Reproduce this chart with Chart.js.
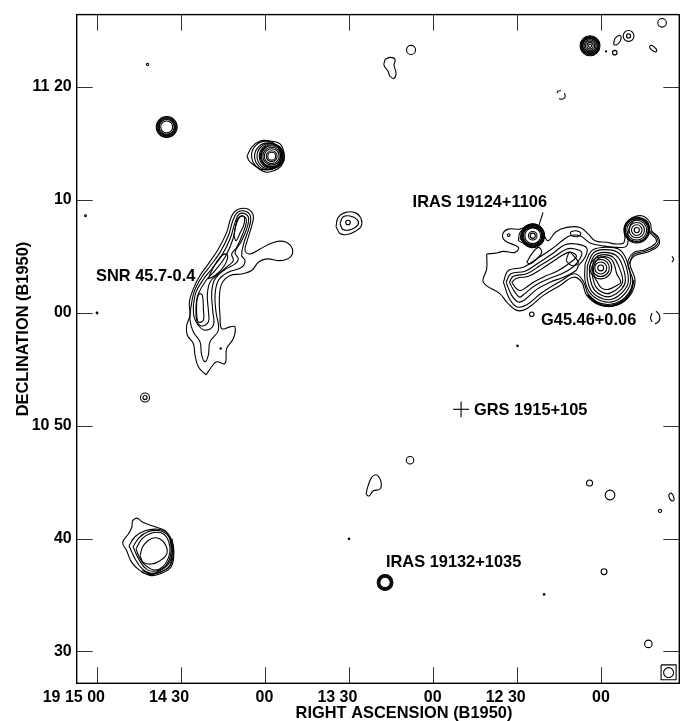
<!DOCTYPE html>
<html>
<head>
<meta charset="utf-8">
<title>SNR 45.7-0.4 field</title>
<script src="https://cdn.jsdelivr.net/npm/chart.js@4/dist/chart.umd.min.js"></script>
<style>
body { margin: 0; background: #fff; }
canvas { display: block; }
</style>
</head>
<body>
<canvas id="myChart" width="680" height="721"></canvas>
<script>
// x = seconds of RA west of 19 15 00, y = arcmin of Dec above 10 00
var raTicks = [0, 30, 60, 90, 120, 150, 180];
var raLabels = ["19 15 00", "14 30", "00", "13 30", "00", "12 30", "00"];
var decTicks = [30, 40, 50, 60, 70, 80];
var decLabels = ["30", "40", "10 50", "00", "10", "11 20"];

// round contours: [ra, dec, radius in arcmin]
var rings = [
    [25.03,76.46,.925],[25.03,76.46,.863],[25.03,76.46,.793],[25.03,76.46,.722],[25.03,76.46,.66],[25.03,76.46,.53],
    [62.48,73.87,1.1],[62.48,73.87,1.01],[62.48,73.87,.93],[62.48,73.87,.79],[62.48,73.87,.66],[62.48,73.87,.48],[62.48,73.87,.35],
    [60.43,73.92,1.28],[61.15,73.86,1.19],[61.87,73.87,1.15],
    [175.98,83.65,.88],[175.98,83.65,.82],[175.98,83.65,.76],[175.98,83.65,.7],[175.98,83.65,.63],[175.98,83.65,.53],[175.98,83.65,.41],[175.98,83.65,.28],[175.98,83.65,.14],
    [189.71,84.52,.48],[189.71,84.52,.18],[201.66,85.68,.38],[184.79,83.04,.2],[181.7,83.15,.05],
    [112.15,83.28,.4],[18.19,82,.1],[-3.92,68.6,.08],[.18,59.98,.08],
    [17.3,52.49,.4],[17.3,52.49,.18],[89.68,68,.2],
    [111.8,46.94,.33],[175.8,44.92,.27],[183.1,43.86,.43],[200.94,42.45,.14],[180.97,37.07,.26],
    [90.04,39.98,.07],[150.1,57.07,.07],[159.6,35.05,.07],[196.77,30.67,.33],
    [102.88,36.11,.7],[102.88,36.11,.64],[102.88,36.11,.58],[102.88,36.11,.53],[102.88,36.11,.46],
    [155.2,59.87,.2],[146.98,66.88,.12],[44.28,56.84,.06],
    [179.79,63.97,.26],[179.79,63.97,.53],[179.79,63.97,.76],[179.79,63.97,.97],
    [192.63,67.32,.23],[192.63,67.32,.47],[192.63,67.32,.68],[192.63,67.32,.88],[192.63,67.32,1],[192.63,67.32,1.07],[192.63,67.32,1.14],
    [155.54,66.82,.23],[155.54,66.82,.38],[155.54,66.82,.7],[155.54,66.82,.82],[155.54,66.82,.9],[155.54,66.82,.97],[155.54,66.82,1.05],
    [203.98,28.13,.44]
];

// SNR 45.7-0.4
var snrOuter = [[39.05,54.49],[36.31,55.22],[35.13,56.25],[34.53,57.28],[32.39,58.01],[32.15,58.89],[33.34,59.77],[33.1,60.95],[34.53,62.12],[36.91,63.3],[39.88,64.33],[43.45,65.65],[46.42,67.12],[48.2,68.58],[50.58,69.17],[54.14,69.17],[55.93,68.58],[55.33,67.7],[53.55,66.23],[52.96,65.5],[54.74,65.21],[58.3,65.65],[63.06,66.23],[67.22,66.29],[69.84,65.65],[69,64.91],[65.44,64.62],[60.68,64.77],[57.71,64.47],[55.33,63.74],[51.77,63.44],[47.61,63.3],[44.64,62.56],[43.8,61.24],[44.04,59.77],[44.64,58.6],[47.61,58.75],[49.39,58.75],[48.8,57.72],[46.42,56.84],[45.82,55.51],[42.85,55.66],[41.07,55.22]];
var snrSecond = [[33.58,60.36],[34.77,61.83],[37.5,63.15],[40.47,64.12],[44.04,65.35],[47.01,66.82],[48.8,68.29],[50.58,68.94],[53.55,68.94],[54.98,68.44],[54.26,67.41],[52.6,66.23],[51.77,65.06],[52.96,64.62],[51.77,64.03],[47.01,63.59],[43.45,62.86],[42.26,61.54],[42.61,60.07],[43.45,58.45],[40.47,57.42],[39.88,56.25],[38.69,55.66],[37.5,56.25],[36.91,57.42],[34.53,58.3],[33.34,59.33]];
var snrThird = [[34.53,60.65],[35.48,61.83],[38.1,62.95],[41.07,63.88],[44.64,65.06],[47.61,66.53],[49.39,67.98],[50.82,68.73],[53.31,68.73],[54.26,68.29],[53.31,67.26],[51.41,66.23],[49.39,65.35],[50.58,64.77],[49.39,64.33],[45.82,63.83],[42.26,63],[41.07,61.83],[41.43,60.21],[41.66,58.89],[38.69,58.45],[36.31,58.89],[34.77,59.63]];
var snrFourth = [[35.48,60.65],[36.31,61.68],[39.05,62.86],[42.26,63.74],[45.82,64.91],[48.44,66.38],[49.98,67.94],[51.29,68.53],[53.08,68.44],[53.43,68],[52.12,66.97],[49.98,65.79],[48.2,65.21],[48.8,64.62],[47.01,64.18],[43.45,63.44],[40.47,62.71],[39.52,61.54],[39.88,60.21],[39.88,59.19],[37.5,58.83],[35.72,59.33]];
var snrMidLoop = [[39.88,63],[41.07,63.74],[44.04,64.91],[46.42,65.21],[46.66,64.77],[45.23,64.03],[42.26,63.3]];
var snrTopLoop = [[49.03,66.82],[49.98,68.14],[51.17,68.53],[52.6,68.53],[52.6,67.85],[51.17,67.06],[49.75,66.38]];
var snrLowLoop = [[35.72,61.09],[36.67,61.68],[37.74,61.54],[38.1,60.36],[38.1,59.33],[36.31,59.19],[35.72,59.92]];

// G45.46+0.06 complex
var gOuter = [[139.13,65.21],[142.7,65.3],[145.08,65.44],[149.24,65.35],[150.43,65.79],[145.67,66.38],[144.84,66.97],[146.86,67.41],[151.02,67.41],[155.18,67.85],[158.75,67.47],[159.94,66.68],[161.12,66.38],[163.86,67.18],[167.66,67.56],[172.42,67.56],[175.39,66.97],[177.77,66.38],[181.93,66.24],[185.49,66.09],[188.11,66.24],[188.47,67.56],[190.25,68.29],[194.41,68.59],[197.38,68],[197.97,67.26],[200.35,66.68],[200.35,65.94],[196.19,65.35],[192.03,65.06],[190.25,64.33],[192.03,62.86],[190.25,61.54],[185.49,60.66],[179.55,60.66],[174.8,61.54],[173.01,62.71],[170.04,63.15],[165.28,62.42],[159.34,61.54],[153.4,60.36],[149.83,60.21],[146.27,60.95],[143.89,61.68],[137.94,62.71],[139.13,63.89]];
var gSecond = [[145.08,62.71],[146.86,63.74],[152.21,64.03],[156.96,64.77],[162.31,65.65],[166.47,66.47],[168.85,66.82],[172.42,66.82],[175.98,66.18],[180.14,65.94],[185.49,65.79],[189.06,65.94],[189.66,67.26],[191.44,68.14],[194.41,68.35],[196.79,67.94],[197.14,67.18],[199.52,66.53],[199.16,66.09],[195.6,65.59],[191.44,65.3],[189.42,64.33],[191.2,62.86],[189.53,61.68],[185.25,60.86],[179.79,60.83],[175.39,61.65],[173.6,62.77],[170.63,63.45],[165.28,62.77],[158.75,61.77],[153.4,60.71],[150.07,60.51],[147.22,61.24]];
var gMain1 = [[174.2,64.33],[176.58,65.5],[180.74,65.79],[186.09,65.65],[188.82,64.77],[190.49,62.86],[188.82,61.83],[184.9,61.04],[180.14,61.04],[175.98,61.77],[174.2,62.86]];
var gMain2 = [[175.03,64.18],[177.17,65.3],[180.74,65.59],[185.49,65.41],[188.11,64.62],[189.65,62.86],[188.11,61.98],[184.3,61.24],[180.5,61.24],[176.58,61.89],[175.03,62.95]];
var gMain3 = [[175.75,64.03],[177.53,65.06],[180.98,65.35],[185.02,65.12],[187.28,64.33],[188.58,62.86],[187.28,62.12],[183.71,61.48],[180.74,61.48],[177.41,62.07],[175.98,63.06]];
var gMain4 = [[176.58,64.03],[178.12,64.91],[181.09,65.15],[184.3,64.91],[186.09,64.18],[187.63,62.86],[186.44,62.27],[183.12,61.74],[180.74,61.77],[178.12,62.27],[176.93,63.15]];
var gMain5 = [[177.17,64.03],[178.72,64.77],[181.33,64.97],[183.71,64.71],[184.9,64.03],[185.49,63.45],[186.92,62.71],[185.49,62.42],[182.52,62.07],[180.14,62.18],[178.6,62.71],[177.41,63.3]];
var gFilA = [[146.03,62.71],[147.69,63.45],[152.8,63.68],[157.56,64.41],[162.91,65.3],[167.07,66.03],[171.23,66.09],[174.8,65.74],[174.2,64.91],[171.82,64.18],[170.99,63.74],[166.47,63.15],[161.72,62.71],[156.96,62.07],[152.8,61.18],[150.43,60.95],[148.05,61.54]];
var gFilB = [[147.22,62.71],[148.64,63.24],[153.4,63.45],[158.15,64.18],[163.5,65],[167.66,65.65],[170.63,65.65],[173.01,65.35],[172.18,64.71],[169.8,64.03],[165.88,63.45],[161.12,63],[156.37,62.42],[152.21,61.6],[150.78,61.39],[149,61.89]];
var gFilC = [[148.05,62.71],[149.83,63.06],[153.99,63.24],[158.75,63.89],[164.1,64.77],[168.26,65.35],[170.63,65.21],[170.99,64.91],[168.26,64.33],[164.69,63.74],[160.53,63.3],[155.78,62.71],[152.21,62.07],[150.78,61.98],[149.24,62.27]];
var gLoop1 = [[153.4,64.47],[155.18,65.21],[157.56,65.79],[158.75,65.35],[156.96,64.77],[154.59,64.33]];
var gLoop2 = [[168.85,67.12],[170.63,67.26],[172.66,67.06],[171.82,66.76],[169.45,66.82]];
var gLoop3 = [[167.43,64.62],[168.61,65.35],[170.04,65.06],[171.82,64.41],[169.45,64.18]];
var irasOuter1 = [[150.43,66.38],[151.02,67.12],[154.59,67.7],[158.15,67.56],[159.58,66.82],[158.15,66.09],[154.59,65.94]];
var irasOuter2 = [[151.02,66.53],[151.85,67.12],[154.82,67.56],[157.56,67.41],[158.87,66.82],[157.56,66.24],[154.35,66.09]];

// lower left source
var swOuter = [[12.77,41.57],[14.34,41.81],[16.69,41.42],[20.86,41.04],[24.43,40.69],[26.82,39.81],[27.39,38.77],[26.21,37.6],[22.64,37.01],[19.08,36.81],[15.51,37.16],[12.55,37.89],[10.77,38.92],[9.34,39.66],[11.34,40.4],[12.55,40.98]];
var swSecond = [[11.59,39.37],[13.73,40.16],[17.29,40.69],[21.93,40.82],[25.14,40.51],[26.92,39.63],[27.1,38.75],[25.5,37.69],[21.93,37.07],[19.08,36.94],[16.22,37.34],[13.73,38.22]];
var swThird = [[13.02,39.28],[15.16,40.07],[18.36,40.6],[22.64,40.69],[25.5,40.25],[26.57,39.37],[26.39,38.48],[24.43,37.51],[21.22,37.12],[18.01,37.25],[15.16,38.13]];
var swFourth = [[14.09,39.1],[16.22,39.98],[19.43,40.47],[23,40.51],[25.14,40.07],[26.21,39.19],[25.67,38.31],[23.71,37.51],[20.86,37.21],[18.01,37.51],[15.51,38.22]];
var swInner = [[15.51,38.48],[16.69,39.37],[19.68,40.01],[22.64,39.96],[24.78,39.37],[25.03,38.63],[22.64,38.04],[19.68,37.75],[16.69,37.89]];

// other blobs
var tophat = [[53.67,73.9],[55.45,74.69],[58.3,75.22],[61.87,75.22],[65.44,74.96],[66.86,74.16],[66.86,73.46],[64.72,72.75],[61.15,72.45],[59,72.58],[56.5,73.02],[54.4,73.46]];
var midOuter = [[85.4,67.64],[86.12,68.43],[88.62,68.87],[92.18,68.87],[94.32,68.34],[94.32,67.64],[92.18,67.2],[89.33,66.93],[86.83,67.02]];
var midInner = [[86.83,67.91],[87.9,68.48],[90.4,68.57],[92.9,68.26],[93.26,67.82],[90.76,67.38],[87.9,67.38]];
var blobTop = [[102.88,82.45],[104.66,82.62],[106.44,82.45],[106.09,81.92],[106.8,81.21],[106.09,80.77],[104.66,80.95],[103.95,81.39],[102.52,81.92]];
var blobLow = [[96.1,43.95],[96.8,44.65],[98.2,45.45],[100,45.62],[101.45,45],[101.1,44.39],[98.6,44.21],[97.16,43.77]];
var elongA = [[184.36,83.77],[184.9,84.3],[186.32,84.56],[187.03,84.47],[186.68,84.03],[185.25,83.72]];
var elongB = [[197.2,83.64],[198.09,83.68],[199.52,83.37],[199.7,83.15],[198.8,83.15],[197.38,83.42]];
var elongC = [[203.97,43.86],[204.9,44.03],[205.94,43.59],[205.58,43.33],[204.5,43.5]];

var closedContours = [
    snrOuter, snrSecond, snrThird, snrFourth, snrMidLoop, snrTopLoop, snrLowLoop,
    gOuter, gSecond, gMain1, gMain2, gMain3, gMain4, gMain5, gFilA, gFilB, gFilC, gLoop1, gLoop2, gLoop3,
    irasOuter1, irasOuter2, swOuter, swSecond, swThird, swFourth, swInner,
    tophat, midOuter, midInner, blobTop, blobLow, elongA, elongB, elongC
];

// broken contours, left open
var openContours = [
    [[164.2,79.45],[164.5,79.63],[165.6,79.67]],
    [[166.9,79.45],[167.07,79.1],[166,78.92],[164.93,78.97]],
    [[198.1,59.98],[197.56,59.54],[198.1,59.19]],
    [[199.5,60.16],[200.77,59.72],[200.6,59.28],[199.16,59.01]],
    [[205.2,65],[205.75,64.74],[205.2,64.47]],
    [[189.89,64.33],[191.67,65.18],[195.83,65.47],[199.76,66],[200,66.59],[197.5,67.23]],
    [[191.44,62.86],[189.89,61.63],[185.25,60.77],[179.79,60.74],[175.03,61.6]],
    [[191.7,62.9],[190.1,61.58],[185.4,60.7],[179.7,60.69],[174.9,61.56]],
    [[26.9,40],[27.6,38.8],[26.6,37.5],[23,36.9],[19.5,36.72],[16,37.05]],
    [[26.4,39.9],[26.95,38.8],[26,37.55],[22.8,37.05],[19.3,36.87],[16.4,37.2]]
];

// straight marks: GRS cross, IRAS pointer, beam box
var straightLines = [
    [[127.15,51.45],[132.85,51.45]],
    [[130,50.75],[130,52.15]],
    [[157.43,67.48],[159.21,68.89]],
    [[201.3,28.81],[206.66,28.81],[206.66,27.49],[201.3,27.49],[201.3,28.81]]
];

var noteTexts = ["IRAS 19124+1106", "SNR 45.7-0.4", "G45.46+0.06", "GRS 1915+105", "IRAS 19132+1035"];
var noteRa = [112.7, -0.18, 158.5, 134.6, 103.2];
var noteDec = [69.76, 63.18, 59.36, 51.36, 37.87];

var xTitle = "RIGHT ASCENSION (B1950)";
var yTitle = "DECLINATION (B1950)";

function lineSet(pts, tension) {
    return {
        data: pts,
        showLine: true,
        borderColor: "#000",
        borderWidth: 1.1,
        pointRadius: 0,
        tension: tension,
        clip: false
    };
}

var sets = [];
for (i = 0; i < closedContours.length; i++) {
    sets.push(lineSet(closedContours[i].concat([closedContours[i][0]]), 0.4));
}
for (i = 0; i < openContours.length; i++) {
    sets.push(lineSet(openContours[i], 0.4));
}
for (i = 0; i < straightLines.length; i++) {
    sets.push(lineSet(straightLines[i], 0));
}
sets.push({
    data: rings,
    showLine: false,
    pointStyle: "circle",
    backgroundColor: "transparent",
    borderColor: "#000",
    borderWidth: 1.1,
    pointRadius: function (ctx) {
        var y = ctx.chart.scales.y;
        return ctx.raw[2] * Math.abs(y.getPixelForValue(1) - y.getPixelForValue(0));
    }
});

var frame = {
    id: "frame",
    afterDraw: function (chart) {
        var c = chart.ctx, a = chart.chartArea, sx = chart.scales.x, sy = chart.scales.y;
        c.save();
        c.strokeStyle = "#333";
        c.lineWidth = 1;
        c.beginPath();
        for (i = 0; i < raTicks.length; i++) {
            var px = Math.round(sx.getPixelForValue(raTicks[i])) + 0.5;
            c.moveTo(px, a.bottom); c.lineTo(px, a.bottom - 16);
            c.moveTo(px, a.top); c.lineTo(px, a.top + 16);
        }
        for (i = 0; i < decTicks.length; i++) {
            var py = Math.round(sy.getPixelForValue(decTicks[i])) + 0.5;
            c.moveTo(a.left, py); c.lineTo(a.left + 16, py);
            c.moveTo(a.right, py); c.lineTo(a.right - 16, py);
        }
        c.stroke();
        c.strokeStyle = "#000";
        c.lineWidth = 1.4;
        c.strokeRect(a.left, a.top, a.right - a.left, a.bottom - a.top);

        c.fillStyle = "#000";
        c.font = "bold 16.4px 'Liberation Sans'";
        c.textBaseline = "middle";
        c.textAlign = "left";
        for (i = 0; i < noteTexts.length; i++) {
            c.fillText(noteTexts[i], sx.getPixelForValue(noteRa[i]), sy.getPixelForValue(noteDec[i]));
        }
        c.textAlign = "center";
        c.fillText(xTitle, 404, 713);
        c.translate(23, 329);
        c.rotate(-Math.PI / 2);
        c.fillText(yTitle, 0, 0);
        c.restore();
    }
};

new Chart("myChart", {
    type: "scatter",
    data: { datasets: sets },
    plugins: [frame],
    options: {
        responsive: false,
        animation: false,
        events: [],
        layout: { padding: { top: 11, right: 0.7, left: 0, bottom: 0 } },
        plugins: { legend: { display: false }, tooltip: { enabled: false } },
        scales: {
            x: {
                type: "linear",
                min: -7.06,
                max: 207.8,
                grid: { display: false, tickLength: 0 },
                border: { display: false },
                afterBuildTicks: function (axis) {
                    axis.ticks = raTicks.map(function (v) { return { value: v }; });
                },
                afterFit: function (axis) { axis.height = 37.7; },
                ticks: {
                    autoSkip: false,
                    maxRotation: 0,
                    align: "end",
                    labelOffset: 8.5,
                    padding: 5,
                    color: "#000",
                    font: { family: "'Liberation Sans'", size: 16, weight: "bold" },
                    callback: function (v) { return raLabels[raTicks.indexOf(v)]; }
                }
            },
            y: {
                type: "linear",
                min: 27.18,
                max: 86.41,
                grid: { display: false, tickLength: 0 },
                border: { display: false },
                afterBuildTicks: function (axis) {
                    axis.ticks = decTicks.map(function (v) { return { value: v }; });
                },
                afterFit: function (axis) { axis.width = 76.7; },
                ticks: {
                    autoSkip: false,
                    padding: 5,
                    color: "#000",
                    font: { family: "'Liberation Sans'", size: 16, weight: "bold" },
                    callback: function (v) { return decLabels[decTicks.indexOf(v)]; }
                }
            }
        }
    }
});
</script>
</body>
</html>
